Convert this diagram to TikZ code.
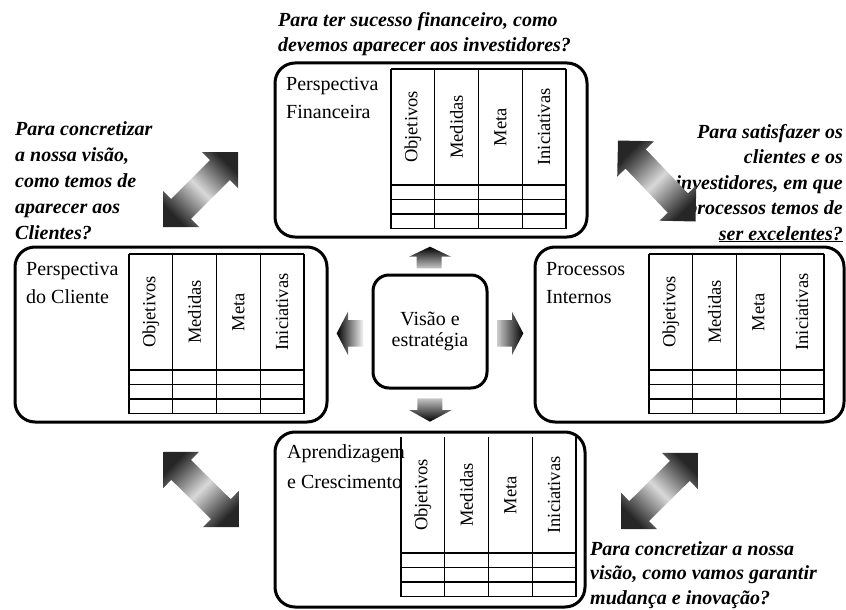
\documentclass[tikz,border=0pt]{standalone}
\usepackage{fontspec}
\setmainfont{Liberation Serif}
\usetikzlibrary{calc}

\tikzset{
  x=1pt, y=-1pt,
  persp/.style={draw, line width=3pt, rounded corners=20pt, inner sep=0pt},
  core/.style={draw, line width=3pt, rounded corners=16pt, inner sep=0pt,
    minimum width=114pt, minimum height=113pt, align=center,
    font=\fontsize{20}{21}\selectfont},
  % multi-line labels are placed by the baseline of their last line
  plabel/.style={anchor=base west, align=left, inner sep=0pt,
    font=\fontsize{20}{28}\selectfont},
  question/.style={inner sep=0pt, font=\fontsize{20}{25.5}\selectfont\bfseries\itshape},
  colhead/.style={rotate=90, inner sep=0pt, font=\fontsize{18.5}{20}\selectfont},
  gridline/.style={line width=1.1pt},
  dbl/.style={top color=black!85, bottom color=black!85, middle color=gray!30},
  % table of objectives, measures, targets and initiatives
  bsc table/.pic={
    \foreach \x in {0,43.75,87.5,131.25,175} \draw[gridline] (\x,0) -- (\x,159.5);
    \foreach \y in {116,130.5,145,159.5} \draw[gridline] (0,\y) -- (175,\y);
    \node[colhead] (obj) at (21.9,58) {Objetivos};
    \node[colhead] (med) at (65.6,58) {Medidas};
    \node[colhead] (met) at (109.4,58) {Meta};
    \node[colhead] (ini) at (153.1,58) {Iniciativas};
  },
}

% shaded double-headed arrow between two corner points
\newcommand\bscdiag[3]{%
  \coordinate (#1-p) at ($(#1)!25.5pt!(#2)$);
  \coordinate (#1-q) at ($(#2)!25.5pt!(#1)$);
  \shade[dbl, shading angle=#3]
    (#1)
    -- ($(#1-p)!25.5pt!90:(#2)$)
    -- ($(#1-p)!14pt!90:(#2)$)
    -- ($(#1-q)!14pt!-90:(#1)$)
    -- ($(#1-q)!25.5pt!-90:(#1)$)
    -- (#2)
    -- ($(#1-q)!25.5pt!90:(#1)$)
    -- ($(#1-q)!14pt!90:(#1)$)
    -- ($(#1-p)!14pt!-90:(#2)$)
    -- ($(#1-p)!25.5pt!-90:(#2)$)
    -- cycle;
}

\begin{document}
\begin{tikzpicture}
\useasboundingbox (0,0) rectangle (846,610);

% the four perspectives
\node[persp, minimum width=312pt, minimum height=174pt] (fin) at (431,150) {};
\node[persp, minimum width=312pt, minimum height=175pt] (cli) at (171,334.5) {};
\node[persp, minimum width=309pt, minimum height=175pt] (proc) at (689.5,334.5) {};
\node[persp, minimum width=310pt, minimum height=175pt] (apr) at (430,519.5) {};

% vision and strategy in the middle
\node[core] (core) at (430,331.5) {Visão e\\estratégia};

% perspective titles
\node[plabel] (finlab) at (286,118) {Perspectiva\\Financeira};
\node[plabel] (clilab) at (26,303) {Perspectiva\\do Cliente};
\node[plabel] (proclab) at (546,303) {Processos\\Internos};
\node[plabel, font=\fontsize{20}{30}\selectfont] (aprlab) at (287,488) {Aprendizagem\\e Crescimento};

% tables
\pic (fint) at (391,69) {bsc table};
\draw[gridline] (391,69) -- (566,69);
\pic (clit) at (129,254) {bsc table};
\draw[gridline] (129,254) -- (304,254);
\pic (proct) at (649,254) {bsc table};
\draw[gridline] (649,254) -- (824,254);
\pic (aprt) at (401,437) {bsc table};

% guiding questions
\node[question, anchor=base west, align=left, font=\fontsize{20}{25}\selectfont\bfseries\itshape] (qfin) at (278,52)
  {Para ter sucesso financeiro, como\\devemos aparecer aos investidores?};
\node[question, anchor=base west, align=left, font=\fontsize{20}{26}\selectfont\bfseries\itshape] (qcli) at (15,239)
  {Para concretizar\\a nossa visão,\\como temos de\\aparecer aos\\Clientes?};
\node[question, anchor=base east, align=right] (qproc) at (843,240)
  {Para satisfazer os\\clientes e os\\investidores, em que\\processos temos de\\\underline{ser excelentes?}};
\node[question, anchor=base west, align=left, font=\fontsize{20}{24.5}\selectfont\bfseries\itshape] (qapr) at (590,604)
  {Para concretizar a nossa\\visão, como vamos garantir\\mudança e inovação?};

% arrows leaving the centre
\shade[top color=black, bottom color=gray!45]
  (416.7,268.3) -- (416.7,256.7) -- (409,256.7) -- (430,246.7) -- (451,256.7)
  -- (441.7,256.7) -- (441.7,268.3) -- cycle;
\shade[bottom color=black, top color=gray!45]
  (417.3,398.3) -- (442.3,398.3) -- (442.3,410) -- (451.7,410) -- (430,421.7)
  -- (409,410) -- (417.3,410) -- cycle;
\shade[left color=black, right color=gray!10]
  (363,320) -- (348,320) -- (348,311.7) -- (336.7,333.3) -- (348,355)
  -- (348,346.7) -- (363,346.7) -- cycle;
\shade[right color=black, left color=gray!40]
  (497,320) -- (512,320) -- (512,311.7) -- (523.3,333.3) -- (512,355)
  -- (512,346.7) -- (497,346.7) -- cycle;

% diagonal links between neighbouring perspectives
\coordinate (tlA) at (163,227);  \coordinate (tlB) at (238,152);
\coordinate (trA) at (618,140.5);\coordinate (trB) at (695.5,221.5);
\coordinate (blA) at (163,452);  \coordinate (blB) at (239,527);
\coordinate (brA) at (621,529);  \coordinate (brB) at (698,453);
\bscdiag{tlA}{tlB}{-45}
\bscdiag{trA}{trB}{45}
\bscdiag{blA}{blB}{45}
\bscdiag{brA}{brB}{-45}
\end{tikzpicture}
\end{document}
